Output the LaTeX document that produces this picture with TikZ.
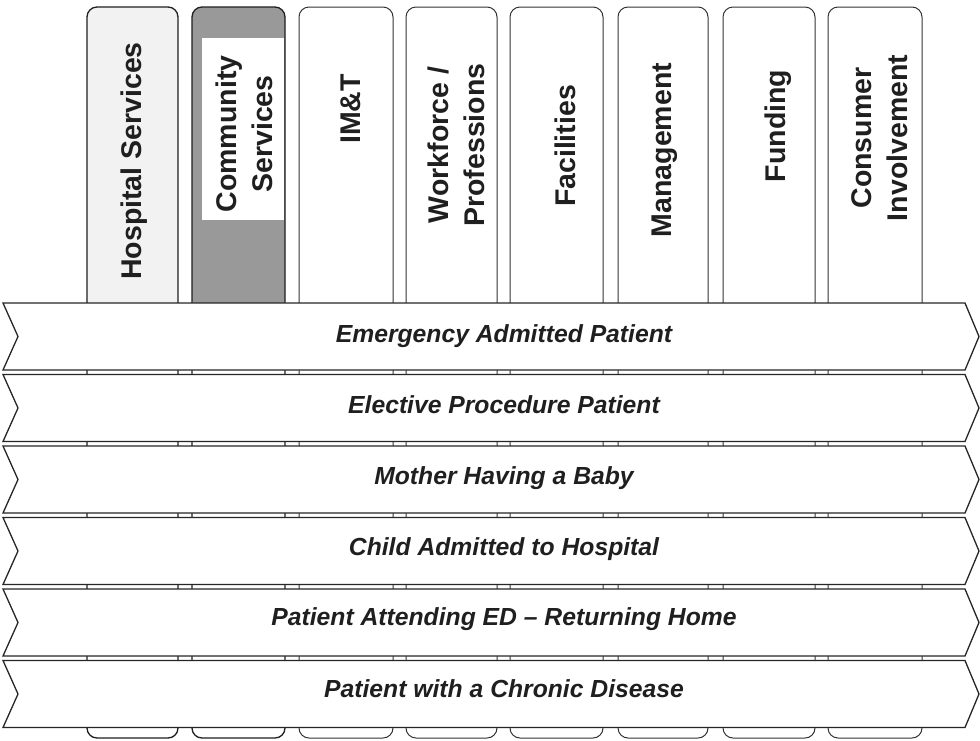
\documentclass[tikz,border=0pt]{standalone}
\usepackage{fontspec}
\setmainfont{Liberation Sans}
\begin{document}
\begin{tikzpicture}[x=1pt,y=-1pt,
  col/.style={draw=black!80, line width=1pt, rounded corners=10pt},
  colstrong/.style={col, draw=black!88, line width=1.3pt},
  band/.style={draw=black!85, line width=1.3pt, fill=white, line join=miter},
  clab/.style={rotate=90, align=center, font=\fontsize{28.5}{36}\selectfont\bfseries, text=black!88, inner sep=0pt},
  blab/.style={font=\fontsize{24.7}{28}\selectfont\bfseries\itshape, text=black!88, anchor=base, inner sep=0pt}]
\useasboundingbox (0,0) rectangle (980,740);
% column fills (upper parts only)
\fill[black!5, rounded corners=10pt] (87,7) rectangle (178,310);
\fill[black!40, rounded corners=10pt] (192,7) rectangle (285,310);
\fill[white] (202,38) rectangle (284,220);
% column outlines
\draw[colstrong] (87,7) rectangle (178,738);
\draw[colstrong] (192,7) rectangle (285,738);
\draw[col] (299,7) rectangle (393,738);
\draw[col] (406,7) rectangle (497,738);
\draw[col] (510,7) rectangle (603,738);
\draw[col] (618,7) rectangle (708,738);
\draw[col] (723,7) rectangle (815,738);
\draw[col] (828,7) rectangle (922,738);
% column labels
\node[clab] (hosp) at (134,161) {Hospital Services};
\node[clab] (comm) at (244,134) {Community\\Services};
\node[clab] (imt) at (351,109) {IM\&T};
\node[clab] (work) at (456,145) {Workforce /\\Professions};
\node[clab] (faci) at (565,146) {Facilities};
\node[clab] (mgmt) at (665,150) {Management};
\node[clab] (fund) at (778,126) {Funding};
\node[clab] (cons) at (880,138) {Consumer\\Involvement};
% bands
\foreach \i in {0,...,5}{
  \pgfmathsetmacro{\t}{303+71.5*\i}
  \draw[band] (3,\t) -- (18,\t+33.5) -- (3,\t+67) -- (965,\t+67) -- (979,\t+33.5) -- (965,\t) -- cycle;
}
\node[blab] (r1) at (504,342) {Emergency Admitted Patient};
\node[blab] (r2) at (504,413) {Elective Procedure Patient};
\node[blab] (r3) at (504,484) {Mother Having a Baby};
\node[blab] (r4) at (504,555) {Child Admitted to Hospital};
\node[blab] (r5) at (504,625) {Patient Attending ED -- Returning Home};
\node[blab] (r6) at (504,697) {Patient with a Chronic Disease};
\end{tikzpicture}
\end{document}
